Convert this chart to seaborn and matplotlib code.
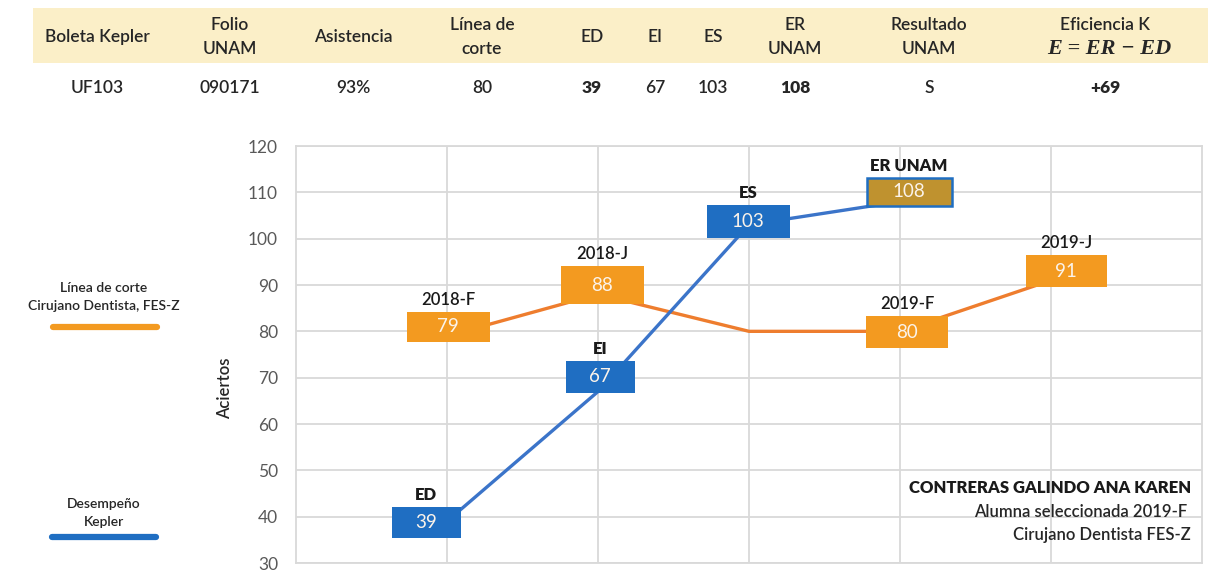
import matplotlib
matplotlib.use("Agg")
import matplotlib.pyplot as plt
import seaborn as sns
import pandas as pd
from matplotlib.patches import Rectangle
from matplotlib.lines import Line2D

# ---- summary table -------------------------------------------------------
header_labels = ["Boleta Kepler", "Folio\nUNAM", "Asistencia", "Línea de\ncorte",
                 "ED", "EI", "ES", "ER\nUNAM", "Resultado\nUNAM", "Eficiencia K"]
row_values = ["UF103", "090171", "93%", "80", "39", "67", "103", "108", "S", "+69"]
bold_columns = ["ED", "ER\nUNAM", "Eficiencia K"]
efficiency_formula = "E = ER \u2212 ED"

# ---- chart data ------------------------------------------------------------
cutoff_periods = ["2018-F", "2018-J", "", "2019-F", "2019-J"]
cutoff_scores = [79, 88, 80, 80, 91]
kepler_stages = ["ED", "EI", "ES", "ER UNAM"]
kepler_scores = [39, 67, 103, 108]
y_ticks = [30, 40, 50, 60, 70, 80, 90, 100, 110, 120]

student_name = "CONTRERAS GALINDO ANA KAREN"
student_notes = ["Alumna seleccionada 2019-F ", "Cirujano Dentista FES-Z"]
legend_cutoff = "Línea de corte\nCirujano Dentista, FES-Z"
legend_kepler = "Desempeño\nKepler"

# ---- style -----------------------------------------------------------------
ORANGE_BOX = "#F39A20"
ORANGE_LINE = "#EE7D2E"
BLUE_BOX = "#1F6EC2"
BLUE_LINE = "#3B74C9"
GOLD_BOX = "#BF922F"
GRID = "#D9D9D9"
TEXT = "#262626"
BODY_WEIGHT = "semibold"

sns.set_style("whitegrid", {"grid.color": GRID, "axes.edgecolor": GRID})
plt.rcParams["font.family"] = ["Lato", "DejaVu Sans"]

W, H = 1225, 571
fig = plt.figure(figsize=(W / 100, H / 100), dpi=100)


def fx(px):
    return px / W


def fy(py):
    return 1 - py / H


# header band and table text
fig.patches.append(Rectangle((fx(33), fy(63)), fx(1208 - 33), (63 - 8) / H,
                             transform=fig.transFigure, facecolor="#FBEFC8",
                             edgecolor="none", zorder=0))
col_x = [97, 230, 353, 482, 592, 655, 713, 795, 929, 1105]
for label, value, cx in zip(header_labels, row_values, col_x):
    lines = label.split("\n")
    kw = dict(ha="center", va="center", fontsize=12.5, color=TEXT, fontweight=BODY_WEIGHT)
    if label == "Eficiencia K":
        fig.text(fx(cx), fy(25), label, **kw)
        fig.text(fx(cx + 4), fy(49), efficiency_formula, ha="center", va="center",
                 fontsize=16, color=TEXT, family="Liberation Serif", style="italic",
                 fontweight="bold")
    elif len(lines) == 2:
        fig.text(fx(cx), fy(25), lines[0], **kw)
        fig.text(fx(cx), fy(49), lines[1], **kw)
    else:
        fig.text(fx(cx), fy(37), label, **kw)
    fig.text(fx(cx), fy(88), value, ha="center", va="center", fontsize=12.5, color=TEXT,
             fontweight="heavy" if label in bold_columns else BODY_WEIGHT)

# ---- main chart --------------------------------------------------------------
left, right, top, bottom = 296, 1202, 146, 563
ax = fig.add_axes([fx(left), fy(bottom), fx(right - left), (bottom - top) / H])

cutoff_df = pd.DataFrame({"pos": range(1, len(cutoff_scores) + 1), "score": cutoff_scores})
kepler_df = pd.DataFrame({"pos": range(1, len(kepler_scores) + 1), "score": kepler_scores})
sns.lineplot(data=cutoff_df, x="pos", y="score", color=ORANGE_LINE, linewidth=2.4,
             ax=ax, zorder=2)
sns.lineplot(data=kepler_df, x="pos", y="score", color=BLUE_LINE, linewidth=2.4,
             ax=ax, zorder=2)

ax.set_xlim(0, 6)
ax.set_ylim(30, 120)
ax.set_xticks(range(1, 6))
ax.set_xticklabels([])
ax.set_yticks(y_ticks)
ax.set_yticklabels([str(t) for t in y_ticks])
ax.tick_params(axis="y", length=0, pad=13, labelsize=12.5, labelcolor="#595959")
ax.tick_params(axis="x", length=0)
ax.grid(True, color=GRID, linewidth=1.3)
for s in ax.spines.values():
    s.set_color(GRID)
    s.set_linewidth(1.3)
ax.set_xlabel("")
ax.set_ylabel("Aciertos", fontsize=12, color=TEXT, fontweight=BODY_WEIGHT)
ax.yaxis.set_label_coords((233 - left) / (right - left), 0.42)

# pixel -> data helpers for the value boxes
ux = (right - left) / 6.0
uy = (bottom - top) / 90.0


def value_box(x, y, text, name, face, dx, dy, w, h, name_bold, edge=None):
    cx = x + dx / ux
    cy = y + dy / uy
    ax.add_patch(Rectangle((cx - w / 2 / ux, cy - h / 2 / uy), w / ux, h / uy,
                           facecolor=face, edgecolor=edge or face,
                           linewidth=1.8 if edge else 0, zorder=3))
    ax.text(cx, cy, text, ha="center", va="center", fontsize=13.5,
            color="#FBF3EA", zorder=4)
    if name:
        ax.text(cx, cy + (h / 2 + 12) / uy, name, ha="center", va="center",
                fontsize=12, color="#1a1a1a", zorder=4,
                fontweight="heavy" if name_bold else BODY_WEIGHT)


# (dx, dy, width, height) in pixels around each point
cutoff_boxes = [(1, 9, 83, 30), (4, 9, 83, 38), None, (7, -1, 82, 32), (15, 9, 81, 32)]
kepler_boxes = [(-21, -1, 69, 31), (2, 15, 69, 32), (-1, 3, 83, 33), (9, 10, 85, 28)]

for i, (period, score) in enumerate(zip(cutoff_periods, cutoff_scores)):
    geom = cutoff_boxes[i]
    if geom is None:
        continue
    value_box(i + 1, score, str(score), period, ORANGE_BOX, *geom, name_bold=False)

for i, (stage, score) in enumerate(zip(kepler_stages, kepler_scores)):
    last = i == len(kepler_scores) - 1
    value_box(i + 1, score, str(score), stage, GOLD_BOX if last else BLUE_BOX,
              *kepler_boxes[i], name_bold=True, edge=BLUE_BOX if last else None)

# student note, lower right
fig.text(fx(1191), fy(488), student_name, ha="right", va="center", fontsize=12,
         fontweight="heavy", color="#1a1a1a")
fig.text(fx(1191), fy(512), student_notes[0], ha="right", va="center", fontsize=12,
         color=TEXT, fontweight=BODY_WEIGHT)
fig.text(fx(1191), fy(535), student_notes[1], ha="right", va="center", fontsize=12,
         color=TEXT, fontweight=BODY_WEIGHT)

# side legend
fig.text(fx(104), fy(297), legend_cutoff, ha="center", va="center", fontsize=10,
         color=TEXT, linespacing=1.5, fontweight=BODY_WEIGHT)
fig.lines.append(Line2D([fx(53), fx(157)], [fy(327), fy(327)], transform=fig.transFigure,
                        color=ORANGE_BOX, linewidth=4.5))
fig.text(fx(104), fy(513), legend_kepler, ha="center", va="center", fontsize=10,
         color=TEXT, linespacing=1.5, fontweight=BODY_WEIGHT)
fig.lines.append(Line2D([fx(52), fx(156)], [fy(537), fy(537)], transform=fig.transFigure,
                        color=BLUE_BOX, linewidth=4.5))

fig.savefig("out.png", dpi=100)
